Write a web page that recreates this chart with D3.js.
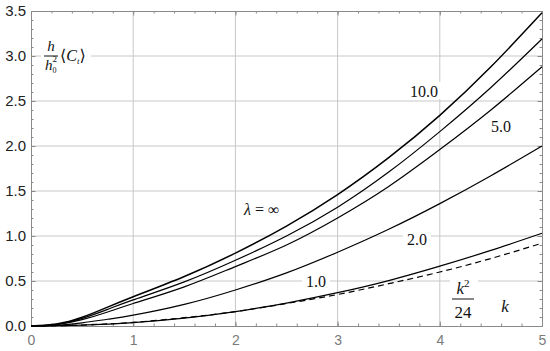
<!DOCTYPE html>
<html>
<head>
<style>
  body { margin: 0; background: #fff; }
</style>
<script src="https://cdn.jsdelivr.net/npm/d3@7"></script>
</head>
<body>
<script>
// k values where curves were read
const kVals = [0, 0.25, 0.5, 0.75, 1, 1.5, 2, 2.5, 3, 3.5, 4, 4.5, 5];

const lamInf = [0, 0.022, 0.097, 0.21, 0.325, 0.55, 0.81, 1.11, 1.46, 1.87, 2.34, 2.88, 3.48];
const lam10  = [0, 0.019, 0.085, 0.185, 0.29, 0.49, 0.73, 1.00, 1.32, 1.71, 2.16, 2.65, 3.19];
const lam5   = [0, 0.016, 0.07, 0.155, 0.25, 0.435, 0.66, 0.90, 1.20, 1.55, 1.96, 2.40, 2.88];
const lam2   = [0, 0.008, 0.035, 0.075, 0.12, 0.24, 0.40, 0.59, 0.82, 1.075, 1.36, 1.67, 2.00];
const lam1   = [0, 0.003, 0.01, 0.021, 0.037, 0.088, 0.16, 0.255, 0.37, 0.505, 0.665, 0.84, 1.03];
const approx = [0, 0.003, 0.01, 0.023, 0.040, 0.092, 0.16, 0.25, 0.35, 0.47, 0.60, 0.75, 0.92];

const xTicks = [0, 1, 2, 3, 4, 5];
const yTicks = [0, 0.5, 1, 1.5, 2, 2.5, 3, 3.5];

const SANS = '"Liberation Sans", Arimo, Arial, sans-serif';
const SERIF = '"Liberation Serif", Tinos, "Times New Roman", "DejaVu Serif", serif';

const w = 550, h = 351;
const svg = d3.select("body").append("svg").attr("width", w).attr("height", h);

const x = d3.scaleLinear().domain([0, 5]).range([31, 542]);
const y = d3.scaleLinear().domain([0, 3.5]).range([326, 11]);

// grid
svg.append("g").selectAll("line").data(xTicks.slice(1, -1)).enter().append("line")
  .attr("x1", d => x(d)).attr("x2", d => x(d)).attr("y1", y(0)).attr("y2", y(3.5))
  .attr("stroke", "#c8c8c8").attr("stroke-width", 1);
svg.append("g").selectAll("line").data(yTicks.slice(1, -1)).enter().append("line")
  .attr("y1", d => y(d)).attr("y2", d => y(d)).attr("x1", x(0)).attr("x2", x(5))
  .attr("stroke", "#c8c8c8").attr("stroke-width", 1);

// frame with inward ticks
const xMinor = d3.range(0, 5.001, 0.2);
const yMinor = d3.range(0, 3.501, 0.1);
function frameAxis(axis, tr, ticks, size, fmt, col, fs) {
  const g = svg.append("g").attr("transform", tr)
    .call(axis.tickValues(ticks).tickSize(size).tickSizeOuter(0).tickFormat(fmt));
  g.attr("font-family", null);
  g.select(".domain").attr("stroke", "#8a8a8a");
  g.selectAll(".tick line").attr("stroke", "#8a8a8a");
  g.selectAll(".tick text").attr("fill", col).attr("font-size", fs).attr("font-family", SANS);
  return g;
}
frameAxis(d3.axisBottom(x), `translate(0,${y(0)})`, xMinor, -2.5, "", "#000", 0);
frameAxis(d3.axisTop(x), `translate(0,${y(3.5)})`, xMinor, -2.5, "", "#000", 0);
frameAxis(d3.axisLeft(y), `translate(${x(0)},0)`, yMinor, -2.5, "", "#000", 0);
frameAxis(d3.axisRight(y), `translate(${x(5)},0)`, yMinor, -2.5, "", "#000", 0);

const gx = frameAxis(d3.axisBottom(x), `translate(0,${y(0)})`, xTicks, -4.5, d3.format("d"), "#7a7a7a", 14);
gx.selectAll(".tick text").attr("dy", "0.71em").attr("y", 9);
frameAxis(d3.axisTop(x), `translate(0,${y(3.5)})`, xTicks, -4.5, "", "#000", 0);
const gy = frameAxis(d3.axisLeft(y), `translate(${x(0)},0)`, yTicks, -4.5, d3.format(".1f"), "#222", 15);
gy.selectAll(".tick text").attr("x", -5);
frameAxis(d3.axisRight(y), `translate(${x(5)},0)`, yTicks, -4.5, "", "#000", 0);

// curves
const line = d3.line().x((d, i) => x(kVals[i])).y(d => y(d)).curve(d3.curveNatural);
const series = [
  { v: lamInf, sw: 1.5, dash: null },
  { v: lam10, sw: 1.2, dash: null },
  { v: lam5, sw: 1.2, dash: null },
  { v: lam2, sw: 1.2, dash: null },
  { v: lam1, sw: 1.2, dash: null },
  { v: approx, sw: 1.2, dash: "6,4" }
];
svg.append("g").selectAll("path").data(series).enter().append("path")
  .attr("d", d => line(d.v)).attr("fill", "none").attr("stroke", "#000")
  .attr("stroke-width", d => d.sw).attr("stroke-dasharray", d => d.dash);

function txt(xp, yp, s, size, italic) {
  return svg.append("text").attr("x", xp).attr("y", yp)
    .attr("font-family", SERIF).attr("font-size", size)
    .attr("font-style", italic ? "italic" : "normal").attr("fill", "#111").text(s);
}

// labels with white boxes
function label(s, cx, cy, wd) {
  svg.append("rect").attr("x", cx - wd / 2).attr("y", cy - 9).attr("width", wd).attr("height", 17).attr("fill", "#fff");
  txt(cx, cy + 5.5, s, 16, false).attr("text-anchor", "middle");
}
label("10.0", 424, 91, 34);
label("5.0", 501, 126, 28);
label("2.0", 417, 239, 28);
label("1.0", 316, 281, 28);

const lt = txt(244, 215, "", 16, false);
lt.append("tspan").attr("font-style", "italic").text("λ");
lt.append("tspan").text(" = ∞");

// k^2/24
svg.append("rect").attr("x", 450).attr("y", 272).attr("width", 28).attr("height", 44).attr("fill", "#fff");
const kt = txt(463, 294, "", 17, false).attr("text-anchor", "middle");
kt.append("tspan").attr("font-style", "italic").text("k");
kt.append("tspan").attr("dy", -7).attr("font-size", 11).text("2");
svg.append("line").attr("x1", 452).attr("x2", 474).attr("y1", 299).attr("y2", 299).attr("stroke", "#111").attr("stroke-width", 1);
txt(463, 318, "24", 17, false).attr("text-anchor", "middle");
txt(505, 312, "k", 17, true).attr("text-anchor", "middle");

// y-axis label h/h0^2 <C_t>
svg.append("rect").attr("x", 41).attr("y", 38).attr("width", 50).attr("height", 36).attr("fill", "#fff");
txt(51, 51, "h", 15, true).attr("text-anchor", "middle");
svg.append("line").attr("x1", 44).attr("x2", 58).attr("y1", 56).attr("y2", 56).attr("stroke", "#111").attr("stroke-width", 1);
const hb = txt(45, 70, "", 15, false);
hb.append("tspan").attr("font-style", "italic").text("h");
hb.append("tspan").attr("dy", 3).attr("font-size", 8).text("0");
hb.append("tspan").attr("dx", -4).attr("dy", -11).attr("font-size", 9).text("2");
const ct = txt(60, 61, "", 16, false);
ct.append("tspan").text("⟨");
ct.append("tspan").attr("font-style", "italic").text("C");
ct.append("tspan").attr("dy", 3).attr("font-size", 9).attr("font-style", "italic").text("t");
ct.append("tspan").attr("dy", -3).text("⟩");
</script>
</body>
</html>
